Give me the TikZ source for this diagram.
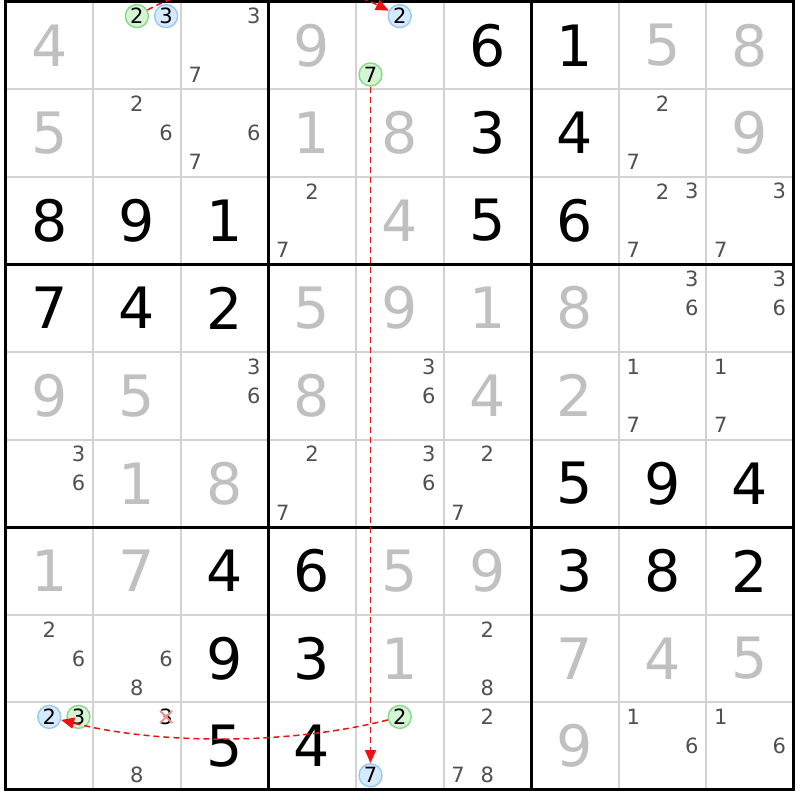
\documentclass[tikz,border=0pt]{standalone}
\usepackage{fontspec}
\setmainfont{DejaVu Sans}
\usetikzlibrary{arrows.meta,calc}
\definecolor{thingrid}{HTML}{D3D3D3}
\definecolor{solvedgray}{HTML}{C0C0C0}
\definecolor{candgray}{HTML}{505050}
\definecolor{grfill}{HTML}{D4F4D4}
\definecolor{grline}{HTML}{86D986}
\definecolor{blfill}{HTML}{D6EAFF}
\definecolor{blline}{HTML}{98C8F4}
\definecolor{linkred}{HTML}{EE1111}
\definecolor{xpink}{HTML}{F09090}
\def\ox{5.5}
\def\oy{1.5}
\def\cs{87.6}
\tikzset{
  given/.style={inner sep=0pt, font=\fontsize{57}{57}\selectfont, text=black},
  solved/.style={inner sep=0pt, font=\fontsize{57}{57}\selectfont, text=solvedgray},
  cand/.style={inner sep=0pt, font=\fontsize{21}{21}\selectfont, text=candgray},
  gcirc/.style={circle, inner sep=0pt, minimum size=23pt, draw=grline, fill=grfill, line width=1.4pt, font=\fontsize{21}{21}\selectfont, text=black},
  bcirc/.style={circle, inner sep=0pt, minimum size=23pt, draw=blline, fill=blfill, line width=1.4pt, font=\fontsize{21}{21}\selectfont, text=black},
  link/.style={draw=linkred, line width=1.5pt, dash pattern=on 6pt off 4pt, -{Triangle[length=13pt,width=11pt]}},
}
\begin{document}
\begin{tikzpicture}[x=1pt,y=-1pt]
\useasboundingbox (0,0) rectangle (800,800);
\clip (0,0) rectangle (800,800);
\fill[white] (0,0) rectangle (800,800);
% thin grid lines
\foreach \i in {1,2,4,5,7,8} {
  \draw[thingrid, line width=2pt] ({\ox+\cs*\i},\oy) -- ({\ox+\cs*\i},{\oy+9*\cs});
  \draw[thingrid, line width=2pt] (\ox,{\oy+\cs*\i}) -- ({\ox+9*\cs},{\oy+\cs*\i});
}
% given digits
\foreach \r/\c/\d in {1/6/6,1/7/1,2/6/3,2/7/4,3/1/8,3/2/9,3/3/1,3/6/5,3/7/6,4/1/7,4/2/4,4/3/2,6/7/5,6/8/9,6/9/4,7/3/4,7/4/6,7/7/3,7/8/8,7/9/2,8/3/9,8/4/3,9/3/5,9/4/4}
  \node[given] (n\r\c) at ({\ox+\cs*(\c-0.5)},{\oy+\cs*(\r-0.5)}) {\d};
% solved digits
\foreach \r/\c/\d in {1/1/4,1/4/9,1/8/5,1/9/8,2/1/5,2/4/1,2/5/8,2/9/9,3/5/4,4/4/5,4/5/9,4/6/1,4/7/8,5/1/9,5/2/5,5/4/8,5/6/4,5/7/2,6/2/1,6/3/8,7/1/1,7/2/7,7/5/5,7/6/9,8/5/1,8/7/7,8/8/4,8/9/5,9/7/9}
  \node[solved] (n\r\c) at ({\ox+\cs*(\c-0.5)},{\oy+\cs*(\r-0.5)}) {\d};
% candidates
\foreach \r/\c/\d in {1/3/3,1/3/7,2/2/2,2/2/6,2/3/6,2/3/7,2/8/2,2/8/7,3/4/2,3/4/7,3/8/2,3/8/3,3/8/7,3/9/3,3/9/7,4/8/3,4/8/6,4/9/3,4/9/6,5/3/3,5/3/6,5/5/3,5/5/6,5/8/1,5/8/7,5/9/1,5/9/7,6/1/3,6/1/6,6/4/2,6/4/7,6/5/3,6/5/6,6/6/2,6/6/7,8/1/2,8/1/6,8/2/6,8/2/8,8/6/2,8/6/8,9/2/8,9/6/2,9/6/7,9/6/8,9/8/1,9/8/6,9/9/1,9/9/6}
  \node[cand] (c\r\c\d) at ({\ox+\cs*(\c-1)+\cs*(2*mod(\d-1,3)+1)/6},{\oy+\cs*(\r-1)+\cs*(2*floor((\d-1)/3)+1)/6}) {\d};
% eliminated candidate
\node[cand, text=black] (c923) at ({\ox+\cs*1+\cs*5/6},{\oy+\cs*8+\cs/6}) {3};
\draw[xpink, line width=2pt] ($(c923)+(-6,-6)$) -- ($(c923)+(6,6)$);
\draw[xpink, line width=2pt] ($(c923)+(-6,6)$) -- ($(c923)+(6,-6)$);
% circled candidates
\foreach \r/\c/\d/\s in {1/2/2/gcirc,1/2/3/bcirc,1/5/2/bcirc,1/5/7/gcirc,9/1/2/bcirc,9/1/3/gcirc,9/5/2/gcirc,9/5/7/bcirc}
  \node[\s] (c\r\c\d) at ({\ox+\cs*(\c-1)+\cs*(2*mod(\d-1,3)+1)/6},{\oy+\cs*(\r-1)+\cs*(2*floor((\d-1)/3)+1)/6}) {\d};
% thick grid lines
\foreach \i in {0,3,6,9} {
  \draw[black, line width=3pt] ({\ox+\cs*\i},{\oy-1.5}) -- ({\ox+\cs*\i},{\oy+9*\cs+1.5});
  \draw[black, line width=3pt] ({\ox-1.5},{\oy+\cs*\i}) -- ({\ox+9*\cs+1.5},{\oy+\cs*\i});
}
% links
\draw[link] (c122) .. controls +(70,-40) and +(-80,-40) .. (c152);
\draw[link] (c157) -- (c957);
\draw[link] (c952) .. controls +(-110,28) and +(110,28) .. (c912);
\end{tikzpicture}
\end{document}
